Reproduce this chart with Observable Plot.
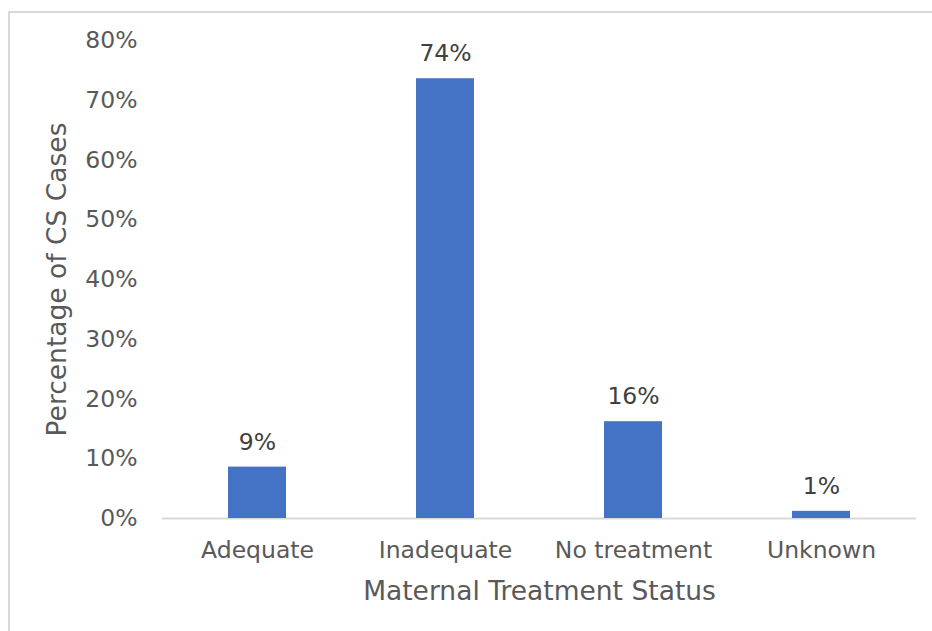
<!DOCTYPE html>
<html>
<head>
<meta charset="utf-8">
<script src="https://cdn.jsdelivr.net/npm/d3@7"></script>
<script src="https://cdn.jsdelivr.net/npm/@observablehq/plot@0.6"></script>
<style>
  html, body { margin: 0; padding: 0; background: #fff; overflow: hidden; }
  #wrap { position: relative; width: 932px; height: 631px; overflow: hidden; }
  #border { position: absolute; left: 8px; top: 11px; width: 2000px; height: 2000px;
            border-left: 2px solid #d9d9d9; border-top: 2px solid #d9d9d9; pointer-events: none; }
  #chart { position: absolute; left: 0; top: 0; }
  g[aria-label="x-axis label"] text, g[aria-label="y-axis label"] text { font-size: 26.5px; }
  g[aria-label="x-axis label"], g[aria-label="y-axis label"] { font-size: 26.5px; }
</style>
</head>
<body>
<div id="wrap"><div id="chart"></div><div id="border"></div></div>
<script>
const categories = ["Adequate", "Inadequate", "No treatment", "Unknown"];
const shares = [0.086, 0.736, 0.162, 0.012];
const yTicks = [0, 0.1, 0.2, 0.3, 0.4, 0.5, 0.6, 0.7, 0.8];

const data = categories.map((c, i) => ({status: c, share: shares[i]}));
const pct = d3.format(".0%");

const chart = Plot.plot({
  width: 932,
  height: 631,
  marginLeft: 162,
  marginRight: 16,
  marginTop: 40,
  marginBottom: 113,
  style: {fontFamily: "'DejaVu Sans', Verdana, sans-serif", background: "transparent"},
  x: {domain: categories, paddingInner: 0.69, paddingOuter: 0.345, align: 0.5},
  y: {domain: [0, 0.8]},
  marks: [
    Plot.axisY({ticks: yTicks, tickFormat: pct, tickSize: 0, tickPadding: 25,
      fontSize: 23.5, fill: "#595959", label: "Percentage of CS Cases",
      labelAnchor: "center", labelArrow: "none", labelOffset: 115}),
    Plot.axisX({tickSize: 0, tickPadding: 23, fontSize: 23.5, fill: "#595959",
      label: "Maternal Treatment Status", labelAnchor: "center", labelArrow: "none",
      labelOffset: 81}),
    Plot.ruleY([0], {stroke: "#d9d9d9", strokeWidth: 2}),
    Plot.barY(data, {x: "status", y: "share", fill: "#4472C4"}),
    Plot.text(data, {x: "status", y: "share", text: d => pct(d.share), dy: -25,
      fontSize: 23.5, fill: "#404040"})
  ]
});
document.getElementById("chart").appendChild(chart);
</script>
</body>
</html>
